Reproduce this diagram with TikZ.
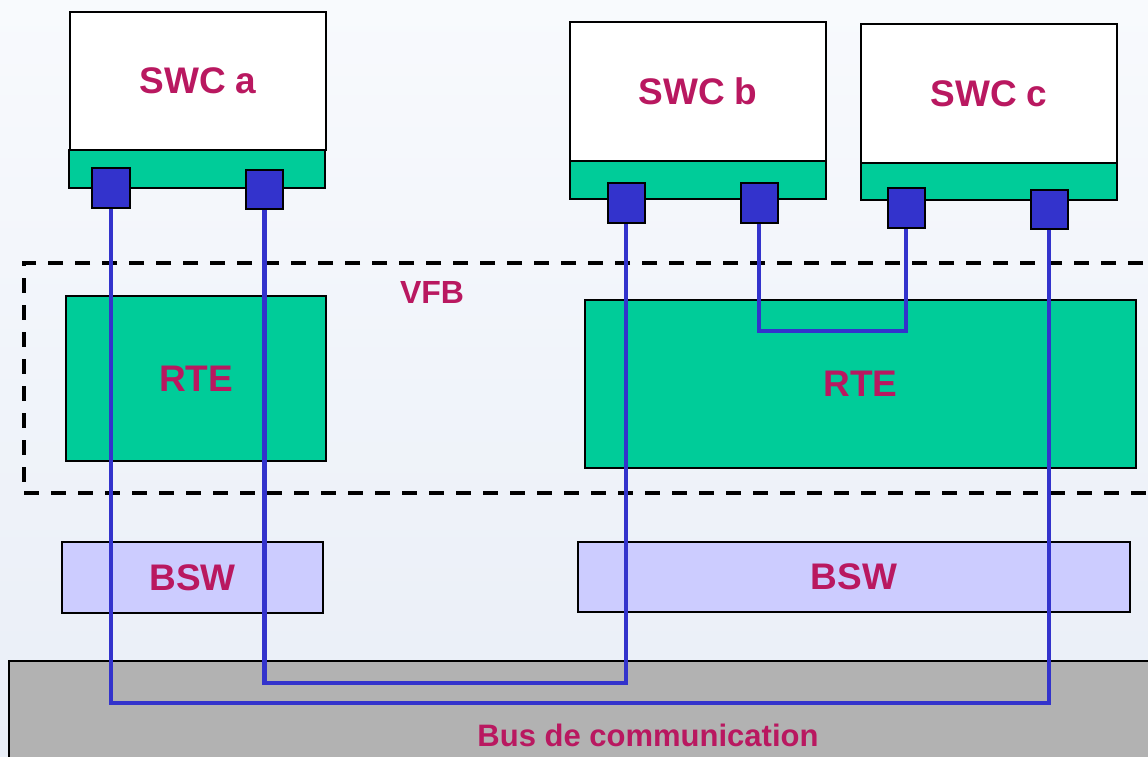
\documentclass[tikz,border=0pt]{standalone}
\usepackage{fontspec}
\setmainfont{Liberation Sans}
\definecolor{txt}{RGB}{185,24,96}
\definecolor{grn}{RGB}{0,204,153}
\definecolor{prt}{RGB}{51,51,204}
\definecolor{bswc}{RGB}{204,204,255}
\definecolor{busc}{RGB}{178,178,178}
\definecolor{bgtop}{RGB}{248,250,253}
\definecolor{bgbot}{RGB}{233,238,247}
\begin{document}
\begin{tikzpicture}[x=1pt,y=-1pt,
  blk/.style={draw=black, line width=2pt, inner sep=0pt, outer sep=0pt,
    font=\fontsize{37}{40}\selectfont\bfseries, text=txt},
  swcbox/.style={blk, fill=white},
  strip/.style={blk, fill=grn},
  rtebox/.style={blk, fill=grn},
  bswbox/.style={blk, fill=bswc},
  portbox/.style={draw=black, line width=2pt, fill=prt, inner sep=0pt, outer sep=0pt},
  conn/.style={draw=prt, line width=4.5pt, line join=miter},
  vfbframe/.style={draw=black, line width=4pt, dash pattern=on 15pt off 12pt},
  lbl/.style={font=\fontsize{32}{36}\selectfont\bfseries, text=txt, inner sep=0pt}
]
\useasboundingbox (0,0) rectangle (1148,757);
\clip (0,0) rectangle (1148,757);
\shade[top color=bgtop, bottom color=bgbot] (0,0) rectangle (1148,757);

% bus
\node[blk, fill=busc, minimum width=1170pt, minimum height=130pt, anchor=north west] (bus) at (9,661) {};
\node[lbl, font=\fontsize{31}{34}\selectfont\bfseries] (buslbl) at (648,735) {Bus de communication};

% BSW
\node[bswbox, minimum width=261pt, minimum height=71pt] (bswa) at (192.5,577.5) {BSW};
\node[bswbox, minimum width=552pt, minimum height=70pt] (bswb) at (854,577) {BSW};

% VFB
\node[vfbframe, minimum width=1160pt, minimum height=230pt, anchor=north west, inner sep=0pt] (vfb) at (22,261) {};
\node[lbl] (vfblbl) at (432,292) {VFB};

% RTE
\node[rtebox, minimum width=260pt, minimum height=165pt] (rtea) at (196,378.5) {RTE};
\node[rtebox, minimum width=551pt, minimum height=168pt] (rteb) at (860.5,384) {RTE};

% SWCs
\node[swcbox, minimum width=256pt, minimum height=138pt] (swca) at (198,81) {SWC a};
\node[strip, minimum width=256pt, minimum height=38pt] (stra) at (197,169) {};
\node[swcbox, minimum width=256pt, minimum height=139pt] (swcb) at (698,91.5) {SWC b};
\node[strip, minimum width=256pt, minimum height=38pt] (strb) at (698,180) {};
\node[swcbox, minimum width=256pt, minimum height=139pt] (swcc) at (989,93.5) {SWC c};
\node[strip, minimum width=256pt, minimum height=37pt] (strc) at (989,181.5) {};

% port coordinates
\coordinate (ca1) at (111,188);
\coordinate (ca2) at (264.5,189.5);
\coordinate (cb1) at (626,203);
\coordinate (cb2) at (759,203);
\coordinate (cc1) at (906,208);
\coordinate (cc2) at (1049,209.5);

% connectors
\draw[conn] (ca1) -- (ca1 |- 0,703) -- (cc2 |- 0,703) -- (cc2);
\draw[conn] (ca2) -- (ca2 |- 0,683) -- (cb1 |- 0,683) -- (cb1);
\draw[conn] (cb2) -- (cb2 |- 0,331) -- (cc1 |- 0,331) -- (cc1);

% ports
\node[portbox, minimum width=38pt, minimum height=40pt] (pa1) at (ca1) {};
\node[portbox, minimum width=37pt, minimum height=39pt] (pa2) at (ca2) {};
\node[portbox, minimum width=37pt, minimum height=40pt] (pb1) at (cb1) {};
\node[portbox, minimum width=37pt, minimum height=40pt] (pb2) at (cb2) {};
\node[portbox, minimum width=37pt, minimum height=40pt] (pc1) at (cc1) {};
\node[portbox, minimum width=37pt, minimum height=39pt] (pc2) at (cc2) {};
\end{tikzpicture}
\end{document}
